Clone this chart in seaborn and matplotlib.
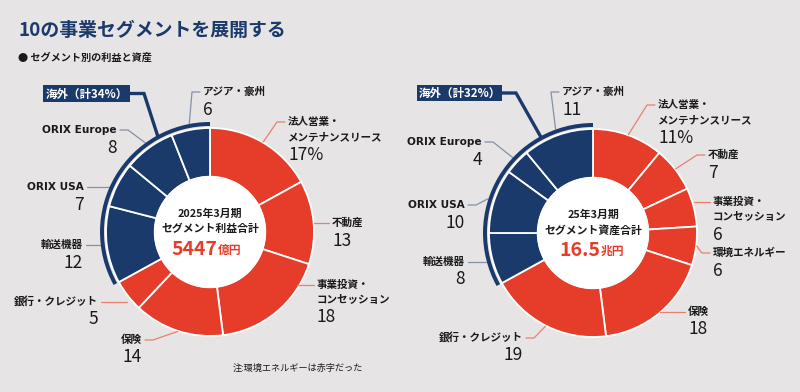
import numpy as np
import matplotlib.pyplot as plt
import matplotlib.patches as mpatches
import seaborn as sns

# ---- data ----------------------------------------------------------------
profit_names = ["法人営業・\nメンテナンスリース", "不動産", "事業投資・\nコンセッション", "保険",
                "銀行・クレジット", "輸送機器", "ORIX USA", "ORIX Europe", "アジア・豪州"]
profit_values = [17, 13, 18, 14, 5, 12, 7, 8, 6]
profit_overseas = [False, False, False, False, False, True, True, True, True]
profit_texts = ["17%", "13", "18", "14", "5", "12", "7", "8", "6"]

asset_names = ["法人営業・\nメンテナンスリース", "不動産", "事業投資・\nコンセッション", "環境エネルギー",
               "保険", "銀行・クレジット", "輸送機器", "ORIX USA", "ORIX Europe", "アジア・豪州"]
asset_values = [11, 7, 6, 6, 18, 19, 8, 10, 4, 11]
asset_overseas = [False, False, False, False, False, False, True, True, True, True]
asset_texts = ["11%", "7", "6", "6", "18", "19", "8", "10", "4", "11"]

profit_center = ["2025年3月期", "セグメント利益合計"]
profit_total, profit_unit = "5447", "億円"
profit_box = "海外（計34%）"
asset_center = ["25年3月期", "セグメント資産合計"]
asset_total, asset_unit = "16.5", "兆円"
asset_box = "海外（計32%）"

title = "10の事業セグメントを展開する"
subtitle = "● セグメント別の利益と資産"
note = "注:環境エネルギーは赤字だった"

# ---- layout (pixel coords, y down): align, x, y, where the leader touches the wedge
profit_labels = [("left", 288, 122, .5), ("left", 332, 223, .5), ("left", 317, 285, .24),
                 ("right", 142, 340, .5), ("right", 98, 302, .5), ("right", 83, 245, .5),
                 ("right", 84, 187, .5), ("right", 117, 130, .5), ("left", 203, 92, .5)]
asset_labels = [("left", 658, 105, .5), ("left", 708, 155, .5), ("left", 713, 202, .5),
                ("left", 713, 253, .5), ("left", 688, 312, .5), ("right", 523, 338, .5),
                ("right", 465, 262, .5), ("right", 465, 205, .5), ("right", 482, 142, .5),
                ("left", 562, 92, .5)]

BG = "#e6e4e4"
RED = "#e63d2b"
NAVY = "#1b3a6c"
TXT = "#1a1a1a"
RED_LINE = "#e9806f"
NAVY_LINE = "#8790a6"
R_OUT, R_IN = 104, 55
ARC_IN, ARC_OUT = 106, 110
LABEL_FONT = ["DejaVu Sans", "Noto Sans CJK JP"]

sns.set_theme(style="white")
plt.rcParams["font.family"] = ["Noto Sans CJK JP", "DejaVu Sans"]

fig = plt.figure(figsize=(8, 3.92), dpi=100, facecolor=BG)
ax = fig.add_axes([0, 0, 1, 1])
ax.set_facecolor(BG)


def donut(cx, cy, values, names, overseas, texts, labels, center, total, unit, box_text, box_rect):
    colors = [NAVY if o else RED for o in overseas]
    wedges, _ = ax.pie(values, colors=colors, startangle=-90, counterclock=True,
                       radius=R_OUT, center=(cx, cy), frame=True,
                       wedgeprops=dict(width=R_OUT - R_IN, edgecolor="white", linewidth=1.3))
    ax.add_patch(mpatches.Circle((cx, cy), R_IN + 0.5, color="white", zorder=3))

    # overseas arc
    blue = [w for w, o in zip(wedges, overseas) if o]
    t1, t2 = blue[0].theta1, blue[-1].theta2
    ax.add_patch(mpatches.Wedge((cx, cy), ARC_OUT, t1, t2, width=ARC_OUT - ARC_IN,
                                color=NAVY, lw=0, zorder=3))

    # box + thick leader
    bx, by, bw, bh = box_rect
    ax.add_patch(mpatches.Rectangle((bx, by), bw, bh, color=NAVY, lw=0, zorder=4))
    ax.text(bx + bw / 2, by + bh / 2 + 0.5, box_text, color="white", fontsize=8.3,
            fontweight="bold", ha="center", va="center", zorder=5)
    ta = np.deg2rad(t1 + 0.76 * (t2 - t1))
    px, py = cx + ARC_OUT * np.cos(ta), cy + ARC_OUT * np.sin(ta)
    ym = by + bh / 2
    ax.plot([bx + bw, bx + bw + 14, px], [ym, ym, py], color=NAVY, lw=2.4,
            solid_joinstyle="miter", zorder=4)

    # labels with leader lines
    for w, o, name, txt, (ha, lx, ly, frac) in zip(wedges, overseas, names, texts, labels):
        th = np.deg2rad(w.theta1 + frac * (w.theta2 - w.theta1))
        r = ARC_OUT + 0.5 if o else R_OUT + 0.5
        axx, ayy = cx + r * np.cos(th), cy + r * np.sin(th)
        sgn = 1 if ha == "left" else -1
        ex = lx - sgn * 3
        elx = ex - sgn * 8
        if abs(ayy - ly) < 6:
            xs, ys = [axx, ex], [ly, ly]
        else:
            xs, ys = [axx, elx, ex], [ayy, ly, ly]
        ax.plot(xs, ys, color=NAVY_LINE if o else RED_LINE, lw=0.9, zorder=2)
        lines = name.split("\n")
        for k, s in enumerate(lines):
            ax.text(lx, ly + 15 * k, s, fontsize=7.6, fontweight="bold", color=TXT,
                    family=LABEL_FONT, ha=ha, va="center")
        ax.text(lx, ly + 15 * (len(lines) - 1) + 17.5, txt, fontsize=12.5, color=TXT,
                ha=ha, va="center")

    # center text
    ax.text(cx, cy - 18, center[0], fontsize=7.8, fontweight="bold", color=TXT,
            ha="center", va="center", zorder=5)
    ax.text(cx, cy - 3, center[1], fontsize=7.8, fontweight="bold", color=TXT,
            ha="center", va="center", zorder=5)
    ax.text(cx + 7, cy + 17, total, fontsize=14, fontweight="bold", color=RED,
            ha="right", va="center", zorder=5)
    ax.text(cx + 8, cy + 18, unit, fontsize=8.5, fontweight="bold", color=RED,
            ha="left", va="center", zorder=5)


donut(210, 232, profit_values, profit_names, profit_overseas, profit_texts, profit_labels,
      profit_center, profit_total, profit_unit, profit_box, (43, 85, 87, 17))
donut(593, 233, asset_values, asset_names, asset_overseas, asset_texts, asset_labels,
      asset_center, asset_total, asset_unit, asset_box, (417, 85, 85, 16))

ax.text(18, 30, title, fontsize=13.6, fontweight="bold", color=NAVY, ha="left", va="center")
ax.text(18, 58, subtitle, fontsize=7.3, fontweight="bold", color=TXT, ha="left", va="center")
ax.text(233, 368, note, fontsize=6.6, color=TXT, ha="left", va="center")

ax.set_xlim(0, 800)
ax.set_ylim(392, 0)
ax.set_aspect("auto")
ax.axis("off")

fig.savefig("out.png", dpi=100, facecolor=BG)
